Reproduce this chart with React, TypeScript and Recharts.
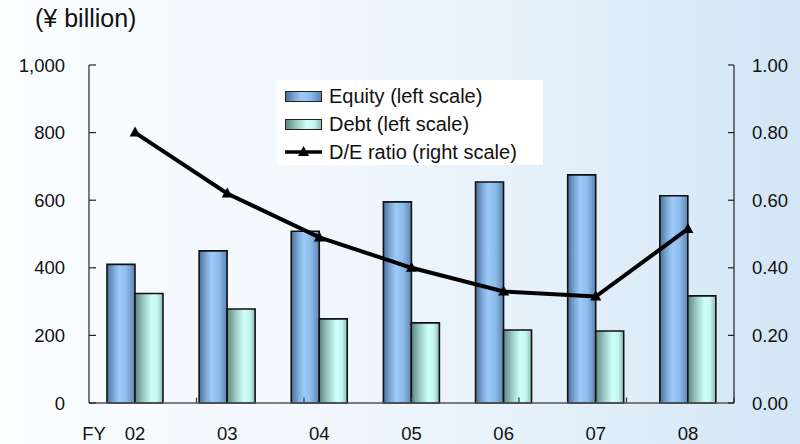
import React from 'react';
import { ComposedChart, Bar, Line, XAxis, YAxis, ReferenceLine, Legend } from 'recharts';

const categories = ['02', '03', '04', '05', '06', '07', '08'];
const equity = [410, 450, 508, 595, 654, 675, 613];
const debt = [324, 278, 249, 237, 216, 213, 317];
const deRatio = [0.8, 0.62, 0.49, 0.4, 0.33, 0.315, 0.515];
const leftTicks = [0, 200, 400, 600, 800, 1000];
const rightTicks = [0, 0.2, 0.4, 0.6, 0.8, 1.0];
const categoryEdges = [1, 2, 3, 4, 5, 6];
const legendItems = [
  { label: 'Equity (left scale)', kind: 'equity' },
  { label: 'Debt (left scale)', kind: 'debt' },
  { label: 'D/E ratio (right scale)', kind: 'line' },
];
const unitLabel = '(¥ billion)';
const fyLabel = 'FY';

const data = categories.map((c, i) => ({ cat: c, equity: equity[i], debt: debt[i], de: deRatio[i] }));

const FONT = '"Liberation Sans", Arial, Helvetica, sans-serif';
const TEXT = '#111';

const LeftTick = (props: any) => {
  const { x, y, payload } = props;
  return (
    <g>
      <line x1={x} x2={x + 7} y1={y} y2={y} stroke="#222" strokeWidth={1.2} />
      <text x={x - 24} y={y} dy={6.5} textAnchor="end" fontSize={18.5} fontFamily={FONT} fill={TEXT}>
        {Number(payload.value).toLocaleString('en-US')}
      </text>
    </g>
  );
};

const RightTick = (props: any) => {
  const { x, y, payload } = props;
  return (
    <g>
      <line x1={x - 6} x2={x} y1={y} y2={y} stroke="#222" strokeWidth={1.2} />
      <text x={x + 18} y={y} dy={6.5} textAnchor="start" fontSize={18.5} fontFamily={FONT} fill={TEXT}>
        {Number(payload.value).toFixed(2)}
      </text>
    </g>
  );
};

const CatTick = (props: any) => {
  const { x, y, payload, index } = props;
  return (
    <g>
      {index === 0 && (
        <text x={x - 41} y={y + 30} dy={6.5} textAnchor="middle" fontSize={18.5} fontFamily={FONT} fill={TEXT}>
          {fyLabel}
        </text>
      )}
      <text x={x} y={y + 30} dy={6.5} textAnchor="middle" fontSize={18.5} fontFamily={FONT} fill={TEXT}>
        {payload.value}
      </text>
    </g>
  );
};

const TriangleDot = (props: any) => {
  const { cx, cy } = props;
  if (cx == null || cy == null) return null;
  return <polygon points={`${cx},${cy - 6} ${cx - 5.5},${cy + 4} ${cx + 5.5},${cy + 4}`} fill="#000" />;
};

const equityCss = 'linear-gradient(to right, #4d6e9a 0%, #7ea8d8 25%, #9ccbf7 45%, #8dbbeb 70%, #5f84b3 100%)';
const debtCss = 'linear-gradient(to right, #5e8683 0%, #9cc9c4 30%, #cdfff9 60%, #c4f7f1 80%, #8fb9b5 100%)';

const renderLegend = () => (
  <div style={{ background: '#ffffff', width: 266, height: 85, boxSizing: 'border-box', paddingTop: 2, paddingLeft: 8 }}>
    {legendItems.map((it) => (
      <div key={it.label} style={{ display: 'flex', alignItems: 'center', height: 28, fontFamily: FONT, fontSize: 20, color: TEXT }}>
        {it.kind === 'line' ? (
          <svg width={37} height={14} style={{ marginRight: 7 }}>
            <line x1={0} x2={37} y1={7} y2={7} stroke="#000" strokeWidth={3.5} />
            <polygon points="18.5,1 13,11 24,11" fill="#000" />
          </svg>
        ) : (
          <div
            style={{
              width: 37,
              height: 11,
              boxSizing: 'border-box',
              border: '1.2px solid #222',
              background: it.kind === 'equity' ? equityCss : debtCss,
              marginRight: 7,
            }}
          />
        )}
        <span>{it.label}</span>
      </div>
    ))}
  </div>
);

export default function App() {
  return (
    <div
      style={{
        position: 'absolute',
        left: 0,
        top: 0,
        width: 800,
        height: 444,
        background: 'linear-gradient(to right, #fbfdff 0%, #f3f8fd 35%, #e6f1fa 65%, #d3e6f5 100%)',
        fontFamily: FONT,
      }}
    >
      <div style={{ position: 'absolute', left: 35, top: 4, fontSize: 25, fontFamily: FONT, color: TEXT }}>{unitLabel}</div>
      <ComposedChart width={800} height={444} data={data} margin={{ top: 65, right: 0, bottom: 0, left: 0 }} barCategoryGap="19.5%" barGap={0}>
        <defs>
          <linearGradient id="gEquity" x1="0" y1="0" x2="1" y2="0">
            <stop offset="0%" stopColor="#4d6e9a" />
            <stop offset="25%" stopColor="#7ea8d8" />
            <stop offset="45%" stopColor="#9ccbf7" />
            <stop offset="70%" stopColor="#8dbbeb" />
            <stop offset="100%" stopColor="#5f84b3" />
          </linearGradient>
          <linearGradient id="gDebt" x1="0" y1="0" x2="1" y2="0">
            <stop offset="0%" stopColor="#5e8683" />
            <stop offset="30%" stopColor="#9cc9c4" />
            <stop offset="60%" stopColor="#cdfff9" />
            <stop offset="80%" stopColor="#c4f7f1" />
            <stop offset="100%" stopColor="#8fb9b5" />
          </linearGradient>
        </defs>
        <XAxis
          xAxisId="cat"
          dataKey="cat"
          height={41}
          tickLine={false}
          tickSize={0}
          tickMargin={0}
          axisLine={{ stroke: '#555', strokeWidth: 1.5 }}
          tick={<CatTick />}
          interval={0}
        />
        <XAxis xAxisId="edge" type="number" domain={[0, 7]} allowDataOverflow hide />
        <YAxis
          yAxisId="left"
          width={89}
          domain={[0, 1000]}
          ticks={leftTicks}
          tickLine={false}
          tickSize={0}
          tickMargin={0}
          axisLine={{ stroke: '#222', strokeWidth: 1.2 }}
          tick={<LeftTick />}
          interval={0}
        />
        <YAxis
          yAxisId="right"
          orientation="right"
          width={66}
          domain={[0, 1]}
          ticks={rightTicks}
          tickLine={false}
          tickSize={0}
          tickMargin={0}
          axisLine={{ stroke: '#222', strokeWidth: 1.2 }}
          tick={<RightTick />}
          interval={0}
        />
        {categoryEdges.map((e) => (
          <ReferenceLine
            key={e}
            xAxisId="edge"
            yAxisId="left"
            segment={[{ x: e, y: 0 }, { x: e, y: 16 }]}
            stroke="#333"
            strokeWidth={1.2}
            ifOverflow="visible"
          />
        ))}
        <Bar xAxisId="cat" yAxisId="left" dataKey="equity" fill="url(#gEquity)" stroke="#111" strokeWidth={1.6} isAnimationActive={false} />
        <Bar xAxisId="cat" yAxisId="left" dataKey="debt" fill="url(#gDebt)" stroke="#111" strokeWidth={1.6} isAnimationActive={false} />
        <Line
          xAxisId="cat"
          yAxisId="right"
          dataKey="de"
          stroke="#000"
          strokeWidth={4}
          dot={<TriangleDot />}
          activeDot={false}
          isAnimationActive={false}
        />
        <Legend
          layout="vertical"
          align="center"
          verticalAlign="middle"
          content={renderLegend}
          wrapperStyle={{ position: 'absolute', left: 277, top: 80, width: 266, height: 85 }}
        />
      </ComposedChart>
    </div>
  );
}
